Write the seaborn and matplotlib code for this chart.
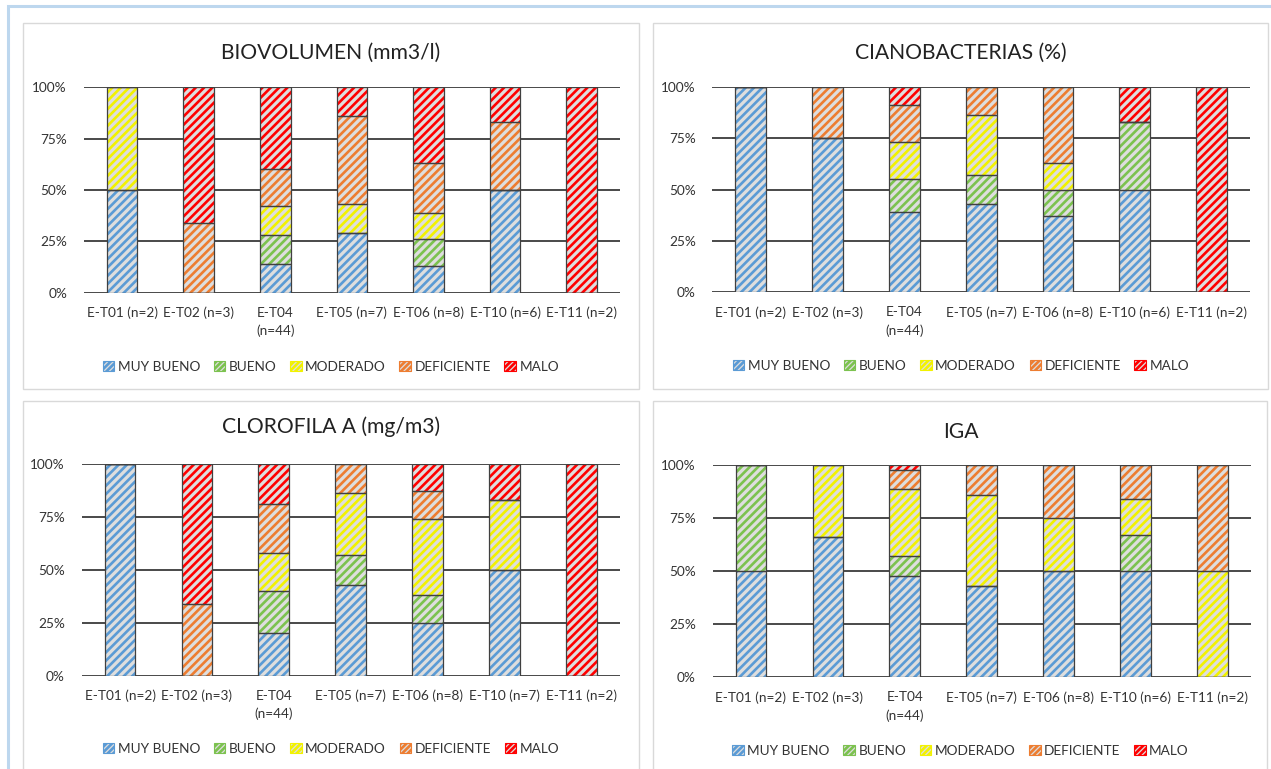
import numpy as np
import matplotlib
matplotlib.use("Agg")
import matplotlib.pyplot as plt
import seaborn as sns
from matplotlib.patches import Rectangle, Patch
from matplotlib.ticker import FuncFormatter

# ---------------- data ----------------
categories = ["MUY BUENO", "BUENO", "MODERADO", "DEFICIENTE", "MALO"]

labels_std = ["E-T01 (n=2)", "E-T02 (n=3)", "E-T04\n(n=44)", "E-T05 (n=7)",
              "E-T06 (n=8)", "E-T10 (n=6)", "E-T11 (n=2)"]
labels_clo = ["E-T01 (n=2)", "E-T02 (n=3)", "E-T04\n(n=44)", "E-T05 (n=7)",
              "E-T06 (n=8)", "E-T10 (n=7)", "E-T11 (n=2)"]

# BIOVOLUMEN (mm3/l)
bio_mb = [50, 0, 14, 29, 13, 50, 0]
bio_b = [0, 0, 14, 0, 13, 0, 0]
bio_mod = [50, 0, 14, 14, 13, 0, 0]
bio_def = [0, 34, 18, 43, 24, 33, 0]
bio_malo = [0, 66, 40, 14, 37, 17, 100]

# CIANOBACTERIAS (%)
cia_mb = [100, 75, 39, 43, 37, 50, 0]
cia_b = [0, 0, 16, 14, 13, 33, 0]
cia_mod = [0, 0, 18, 29, 13, 0, 0]
cia_def = [0, 25, 18, 14, 37, 0, 0]
cia_malo = [0, 0, 9, 0, 0, 17, 100]

# CLOROFILA A (mg/m3)
clo_mb = [100, 0, 20, 43, 25, 50, 0]
clo_b = [0, 0, 20, 14, 13, 0, 0]
clo_mod = [0, 0, 18, 29, 36, 33, 0]
clo_def = [0, 34, 23, 14, 13, 0, 0]
clo_malo = [0, 66, 19, 0, 13, 17, 100]

# IGA
iga_mb = [50, 66, 48, 43, 50, 50, 0]
iga_b = [50, 0, 9, 0, 0, 17, 0]
iga_mod = [0, 34, 32, 43, 25, 17, 50]
iga_def = [0, 0, 9, 14, 25, 16, 50]
iga_malo = [0, 0, 2, 0, 0, 0, 0]

# ---------------- style ----------------
colors = ["#5b9bd5", "#7cc24f", "#f2f200", "#ed7d31", "#ff0000"]
bar_bg = "#dedede"
edge_col = "#404040"
text_col = "#333333"
HATCH = "////"

sns.set_theme(style="white")
plt.rcParams['font.family'] = ['Lato', 'DejaVu Sans']
plt.rcParams['hatch.linewidth'] = 1.9

W, H = 1271, 769
fig = plt.figure(figsize=(W / 100, H / 100), dpi=100)


def px_rect(x0, y0, x1, y1):
    return [x0 / W, 1 - y1 / H, (x1 - x0) / W, (y1 - y0) / H]


# outer light-blue frame (only left & top visible)
fig.add_artist(Rectangle((8 / W, 1 - 800 / H), 1300 / W, 794 / H,
                         transform=fig.transFigure, fill=False,
                         ec="#bdd7ee", lw=2.2))
# panel frames
for (x0, y0, x1, y1) in [(23, 23, 639, 389), (653, 23, 1268, 389),
                         (23, 401, 639, 800), (653, 401, 1267, 800)]:
    r = px_rect(x0, y0, x1, y1)
    fig.add_artist(Rectangle((r[0], r[1]), r[2], r[3],
                             transform=fig.transFigure, fill=False,
                             ec="#d9d9d9", lw=1.0))


def draw_panel(rect, title, labels, series, title_xy, legend_xy):
    ax = fig.add_axes(rect)
    bottom = np.zeros(len(labels))
    for vals, col in zip(series, colors):
        vals = np.asarray(vals, dtype=float)
        # hatched fill
        sns.barplot(x=labels, y=vals, order=labels, bottom=bottom.copy(),
                    width=0.4, color=bar_bg, saturation=1, facecolor=bar_bg,
                    edgecolor=col, hatch=HATCH, linewidth=0, errorbar=None,
                    ax=ax, zorder=2)
        # outline
        sns.barplot(x=labels, y=vals, order=labels, bottom=bottom.copy(),
                    width=0.4, color=bar_bg, saturation=1, facecolor="none",
                    edgecolor=edge_col, linewidth=0.9, errorbar=None,
                    ax=ax, zorder=3)
        bottom += vals
    ax.set_ylim(0, 100)
    ax.set_xlim(-0.5, len(labels) - 0.5)
    ax.set_yticks([0, 25, 50, 75, 100])
    ax.yaxis.set_major_formatter(FuncFormatter(lambda v, p: f"{v:.0f}%"))
    ax.set_xlabel("")
    ax.set_ylabel("")
    for s in ax.spines.values():
        s.set_visible(False)
    ax.set_axisbelow(True)
    ax.yaxis.grid(True, color="#3a3a3a", lw=1.3)
    ax.xaxis.grid(False)
    ax.tick_params(axis="x", length=0, pad=10, labelsize=9.8, labelcolor=text_col)
    ax.tick_params(axis="y", length=0, pad=12, labelsize=9.8, labelcolor=text_col)
    for t in ax.get_xticklabels():
        t.set_linespacing(1.55)
    ax.text(title_xy[0], title_xy[1], title, transform=ax.transAxes,
            ha="center", va="center", fontsize=15.2, color="#222222")
    handles = [Patch(facecolor=bar_bg, edgecolor=c, hatch="//////", linewidth=0.8)
               for c in colors]
    ax.legend(handles, categories, loc="center", bbox_to_anchor=legend_xy,
              ncol=5, frameon=False, fontsize=9.8, handlelength=0.85,
              handleheight=0.85, handletextpad=0.25, columnspacing=1.0,
              labelcolor=text_col)
    return ax


draw_panel(px_rect(83.7, 87.3, 620, 292.7), "BIOVOLUMEN (mm3/l)", labels_std,
           [bio_mb, bio_b, bio_mod, bio_def, bio_malo],
           (0.461, 1.166), (0.461, -0.36))
draw_panel(px_rect(712.4, 86.7, 1250, 292.3), "CIANOBACTERIAS (%)", labels_std,
           [cia_mb, cia_b, cia_mod, cia_def, cia_malo],
           (0.4624, 1.164), (0.4624, -0.357))
draw_panel(px_rect(81.6, 463.7, 619.6, 675.7), "CLOROFILA A (mg/m3)", labels_clo,
           [clo_mb, clo_b, clo_mod, clo_def, clo_malo],
           (0.4636, 1.173), (0.4636, -0.344))
draw_panel(px_rect(712.5, 465.3, 1251, 677.3), "IGA", labels_std,
           [iga_mb, iga_b, iga_mod, iga_def, iga_malo],
           (0.4605, 1.157), (0.4605, -0.346))

fig.savefig("out.png", dpi=100, facecolor="white")
